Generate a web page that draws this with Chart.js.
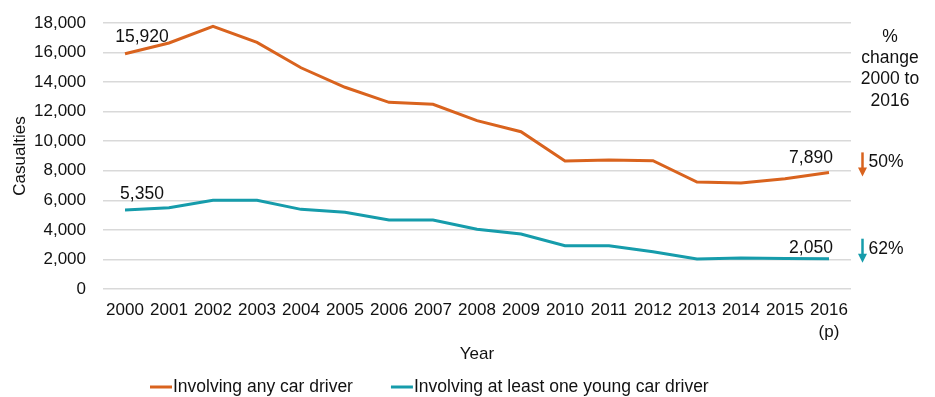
<!DOCTYPE html>
<html>
<head>
<meta charset="utf-8">
<script src="https://cdn.jsdelivr.net/npm/chart.js@4/dist/chart.umd.min.js"></script>
<style>
  html, body { margin: 0; padding: 0; background: #fff; }
  #wrap { width: 935px; height: 397px; }
</style>
</head>
<body>
<div id="wrap"><canvas id="casualtyChart"></canvas></div>
<script>
// data
const years = ["2000", "2001", "2002", "2003", "2004", "2005", "2006", "2007", "2008",
  "2009", "2010", "2011", "2012", "2013", "2014", "2015", ["2016", "(p)"]];
const anyDriver = [15920, 16650, 17780, 16690, 14970, 13650, 12630, 12500, 11390,
  10640, 8660, 8730, 8680, 7240, 7170, 7460, 7890];
const youngDriver = [5350, 5500, 6000, 6000, 5390, 5190, 4670, 4670, 4040,
  3720, 2930, 2930, 2520, 2030, 2100, 2070, 2050];
const seriesNames = ["Involving any car driver", "Involving at least one young car driver"];
const pctChange = ["50%", "62%"];
const changeTitle = ["%", "change", "2000 to", "2016"];
const yTicks = [0, 2000, 4000, 6000, 8000, 10000, 12000, 14000, 16000, 18000];

const orange = "#d9631e";
const teal = "#169cab";
const FONT = "'Liberation Sans', Arial, sans-serif";
const fmt = (v) => v.toLocaleString("en-GB");

//labels, arrows and legend drawn on top
const extras = {
  id: "extras",
  afterDatasetsDraw(chart) {
    const ctx = chart.ctx;
    const area = chart.chartArea;
    const x = chart.scales.x;
    const y = chart.scales.y;
    const last = years.length - 1;
    ctx.save();
    ctx.font = "17.5px " + FONT;
    ctx.fillStyle = "#111";
    ctx.textAlign = "center";
    ctx.textBaseline = "middle";

    // first / last value labels
    chart.data.datasets.forEach((ds, i) => {
      const off = i === 0 ? [-17, -14] : [-16, -11];
      ctx.fillText(fmt(ds.data[0]), x.getPixelForValue(0) + 17, y.getPixelForValue(ds.data[0]) + off[0]);
      ctx.fillText(fmt(ds.data[last]), x.getPixelForValue(last) - 18, y.getPixelForValue(ds.data[last]) + off[1]);
    });

    // % change heading
    changeTitle.forEach((t, i) => {
      ctx.fillText(t, area.right + 39, 37 + i * 21.3);
    });

    // arrows + percentages
    chart.data.datasets.forEach((ds, i) => {
      const cy = y.getPixelForValue(ds.data[last]) - 10;
      const ax = area.right + 11.5;
      ctx.strokeStyle = ds.borderColor;
      ctx.fillStyle = ds.borderColor;
      ctx.lineWidth = 2.5;
      ctx.beginPath();
      ctx.moveTo(ax, cy - 10);
      ctx.lineTo(ax, cy + 6);
      ctx.stroke();
      ctx.beginPath();
      ctx.moveTo(ax - 4.5, cy + 5);
      ctx.lineTo(ax + 4.5, cy + 5);
      ctx.lineTo(ax, cy + 14);
      ctx.closePath();
      ctx.fill();
      ctx.fillStyle = "#111";
      ctx.textAlign = "left";
      ctx.fillText(pctChange[i], ax + 6, cy);
      ctx.textAlign = "center";
    });

    // legend
    const legendY = 387;
    let lx = 150;
    chart.data.datasets.forEach((ds) => {
      ctx.strokeStyle = ds.borderColor;
      ctx.lineWidth = 3;
      ctx.beginPath();
      ctx.moveTo(lx, legendY);
      ctx.lineTo(lx + 22, legendY);
      ctx.stroke();
      ctx.fillStyle = "#111";
      ctx.textAlign = "left";
      ctx.fillText(ds.label, lx + 23, legendY);
      lx += 23 + ctx.measureText(ds.label).width + 38;
    });
    ctx.restore();
  },
};

Chart.defaults.font.family = FONT;
Chart.defaults.font.size = 17;
Chart.defaults.color = "#111";

const chartCtx = document.getElementById("casualtyChart").getContext("2d");
const casualtyChart = new Chart(chartCtx, {
  type: "line",
  data: {
    labels: years,
    datasets: [
      { label: seriesNames[0], data: anyDriver, borderColor: orange, backgroundColor: orange },
      { label: seriesNames[1], data: youngDriver, borderColor: teal, backgroundColor: teal },
    ],
  },
  options: {
    responsive: true,
    maintainAspectRatio: false,
    animation: false,
    devicePixelRatio: 1,
    layout: { padding: { top: 23, right: 84, bottom: 31, left: 10 } },
    elements: {
      line: { borderWidth: 3, tension: 0 },
      point: { radius: 0, hoverRadius: 0 },
    },
    plugins: {
      legend: { display: false },
      tooltip: { enabled: false },
    },
    scales: {
      x: {
        offset: true,
        grid: { display: false },
        border: { display: false },
        afterFit: (axis) => { axis.height = 77; },
        ticks: { padding: 3, maxRotation: 0, autoSkip: false, font: { size: 17, lineHeight: 1.25 } },
        title: { display: true, text: "Year", padding: { top: 4, bottom: 1 }, font: { size: 17 } },
      },
      y: {
        min: 0,
        max: 18000,
        afterBuildTicks: (axis) => { axis.ticks = yTicks.map((v) => ({ value: v })); },
        afterFit: (axis) => { axis.width = 93; axis.paddingTop = 0; axis.paddingBottom = 0; },
        grid: { color: "#d9d9d9", lineWidth: 1.5, drawTicks: false },
        border: { display: false },
        ticks: { padding: 17, callback: (v) => fmt(v), font: { size: 17, lineHeight: 1 } },
        title: { display: true, text: "Casualties", padding: { top: 0, bottom: 8 }, font: { size: 17 } },
      },
    },
  },
  plugins: [extras],
});
</script>
</body>
</html>
